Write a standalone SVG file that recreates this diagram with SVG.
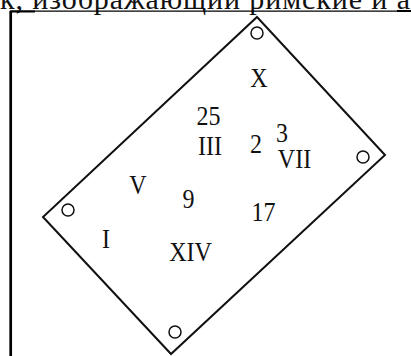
<svg xmlns="http://www.w3.org/2000/svg" width="411" height="356" viewBox="0 0 411 356">
<style>
.lbl{font-family:"Liberation Serif","Times New Roman",serif;font-size:24px;fill:#111;text-anchor:middle}
.hole{fill:none;stroke:#111;stroke-width:1.5}
</style>
<rect width="411" height="356" fill="#fff"/>
<text x="0" y="9" font-family="Liberation Serif, serif" font-size="30" fill="#111" textLength="410" lengthAdjust="spacing">к, изображающий римские и а</text>
<g id="frame" stroke="#000" fill="none">
<line x1="10.7" y1="11" x2="10.7" y2="356" stroke-width="2.7"/>
<line x1="10" y1="11.2" x2="411" y2="11.2" stroke-width="1.2"/>
<line x1="10" y1="11.5" x2="35" y2="11.5" stroke-width="2"/>
<line x1="397" y1="11" x2="411" y2="11" stroke-width="2"/>
</g>
<g id="plate">
<polygon points="257,17 385,155 171,354 43,217" fill="none" stroke="#111" stroke-width="2" stroke-linejoin="miter"/>
<circle class="hole" cx="257" cy="33" r="6"/>
<circle class="hole" cx="363" cy="157" r="6"/>
<circle class="hole" cx="68" cy="210" r="6"/>
<circle class="hole" cx="175" cy="332" r="6"/>
</g>
<g id="labels">
<text class="lbl" transform="translate(259,87) scale(1,1.15)">X</text>
<text class="lbl" transform="translate(208.5,125) scale(1,1.15)">25</text>
<text class="lbl" transform="translate(210,155) scale(1,1.15)">III</text>
<text class="lbl" transform="translate(256,153) scale(1,1.15)">2</text>
<text class="lbl" transform="translate(282,142) scale(1,1.15)">3</text>
<text class="lbl" transform="translate(294.5,168) scale(1,1.15)">VII</text>
<text class="lbl" transform="translate(138,194) scale(1,1.15)">V</text>
<text class="lbl" transform="translate(188.5,208) scale(1,1.15)">9</text>
<text class="lbl" transform="translate(106,248) scale(1,1.15)">I</text>
<text class="lbl" transform="translate(190.5,261) scale(1,1.15)">XIV</text>
<text class="lbl" transform="translate(263.5,221) scale(1,1.15)">17</text>
</g>
</svg>
